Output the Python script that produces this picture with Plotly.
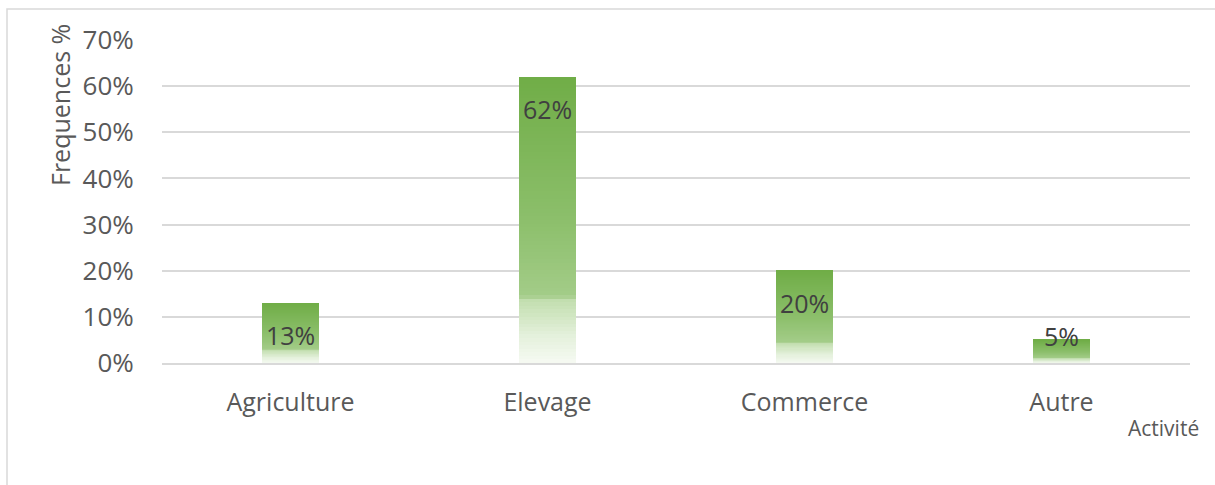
import plotly.graph_objects as go
from plotly.colors import sample_colorscale

# Activity frequencies
categories = ["Agriculture", "Elevage", "Commerce", "Autre"]
values = [0.13, 0.62, 0.20, 0.05]
y_ticks = [0, 0.1, 0.2, 0.3, 0.4, 0.5, 0.6, 0.7]
y_tick_labels = ["0%", "10%", "20%", "30%", "40%", "50%", "60%", "70%"]

# vertical fill of each bar: 0 = bottom of the bar, 1 = top
bar_gradient = [
    [0.0, "#F6FAF3"],
    [0.10, "#E3F0DA"],
    [0.22, "#C2DEAF"],
    [0.235, "#A3CC88"],
    [0.5, "#8CBF6B"],
    [1.0, "#70AD47"],
]
N_SLICES = 80

Y_MAX = 0.7
M_L, M_R, M_T, M_B = 162, 25, 40, 122
W, H = 1215, 485
plot_h = H - M_T - M_B

FONT = "Open Sans"

fig = go.Figure()

# each bar is built from thin stacked slices so the fill fades toward the axis
for k in range(N_SLICES):
    frac = (k + 0.5) / N_SLICES
    color = sample_colorscale(bar_gradient, [frac])[0]
    fig.add_trace(go.Bar(
        x=categories,
        y=[v / N_SLICES for v in values],
        marker=dict(color=color, line=dict(width=0)),
        hoverinfo="skip",
        showlegend=False,
    ))

# value labels at the inner end of each bar, kept above the axis for short bars
px_per_unit = plot_h / Y_MAX
for cat, v in zip(categories, values):
    bar_px = v * px_per_unit
    shift = -min(32, bar_px - 27)
    fig.add_annotation(
        x=cat, y=v, xref="x", yref="y",
        text=f"{round(v * 100)}%",
        showarrow=False, yanchor="middle", yshift=shift,
        font=dict(family=FONT, size=25, color="#404040"),
    )

fig.add_annotation(
    text="Frequences %", textangle=-90,
    xref="paper", yref="paper",
    x=(60 - M_L) / (W - M_L - M_R), y=(H - M_B - 105) / plot_h,
    xanchor="center", yanchor="middle", showarrow=False,
    font=dict(family=FONT, size=25, color="#595959"),
)
fig.add_annotation(
    text="Activité",
    xref="paper", yref="paper",
    x=(1163 - M_L) / (W - M_L - M_R), y=(H - M_B - 428) / plot_h,
    xanchor="center", yanchor="middle", showarrow=False,
    font=dict(family=FONT, size=21, color="#595959"),
)

# outer chart frame
pw = W - M_L - M_R
fig.add_shape(
    type="rect", xref="paper", yref="paper",
    x0=(7 - M_L) / pw, x1=(W + 10 - M_L) / pw,
    y0=(H - M_B - (H + 10)) / plot_h, y1=(H - M_B - 9) / plot_h,
    line=dict(color="#D9D9D9", width=1.5), fillcolor="rgba(0,0,0,0)",
    layer="below",
)

fig.update_layout(
    width=W, height=H,
    margin=dict(l=M_L, r=M_R, t=M_T, b=M_B, pad=0),
    barmode="stack",
    bargap=0.778,
    plot_bgcolor="white",
    paper_bgcolor="white",
    showlegend=False,
    font=dict(family=FONT, color="#595959"),
)
fig.update_xaxes(
    type="category",
    showgrid=False,
    showline=True, linecolor="#D9D9D9", linewidth=1.5,
    ticks="outside", ticklen=16, tickcolor="rgba(0,0,0,0)",
    tickfont=dict(family=FONT, size=25, color="#595959"),
)
fig.update_yaxes(
    range=[0, Y_MAX],
    tickvals=y_ticks, ticktext=y_tick_labels,
    showgrid=True, gridcolor="#D9D9D9", gridwidth=1.5,
    zeroline=False, showline=False,
    ticks="outside", ticklen=22, tickcolor="rgba(0,0,0,0)",
    tickfont=dict(family=FONT, size=26, color="#595959"),
)

fig.write_html("out.html")
